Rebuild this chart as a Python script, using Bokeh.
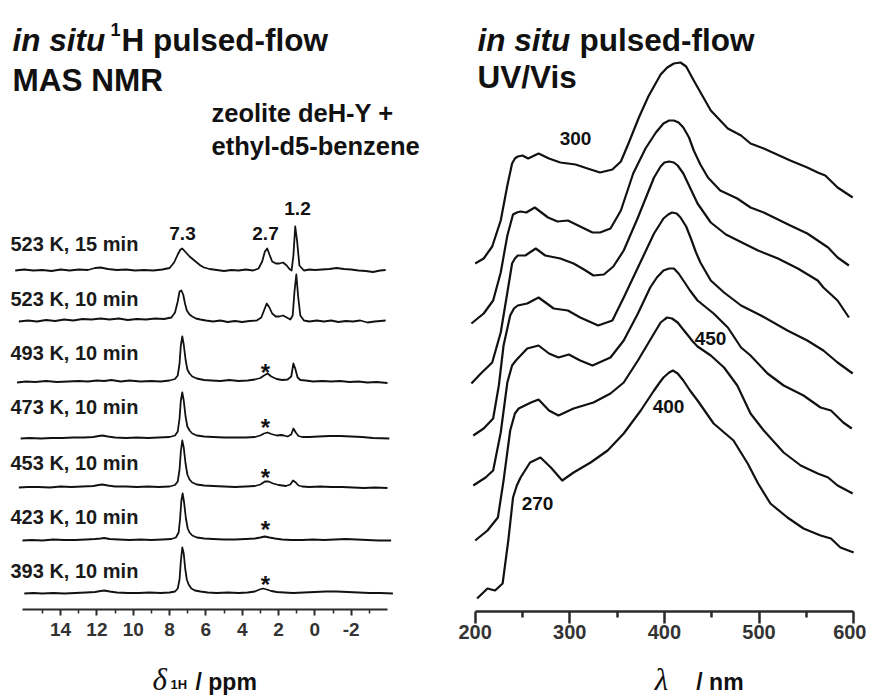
from bokeh.plotting import figure
from bokeh.models import Range1d, FixedTicker, Label
from bokeh.layouts import row, column
from bokeh.embed import file_html
from bokeh.resources import INLINE

# ---------------- NMR data (ppm, intensity a.u.) ----------------
nmr_labels = ["393 K, 10 min", "423 K, 10 min", "453 K, 10 min", "473 K, 10 min",
              "493 K, 10 min", "523 K, 10 min", "523 K, 15 min"]
nmr_offsets = [16, 69, 122, 171, 227, 288, 339]

ppm_393 = [16.0, 15.5, 15.0, 14.4, 13.8, 13.2, 12.6, 12.1, 11.8, 11.6, 11.3, 10.9, 10.3, 9.7, 9.1, 8.5,
           8.0, 7.7, 7.55, 7.45, 7.38, 7.3, 7.22, 7.14, 7.05, 6.95, 6.8, 6.6, 6.3, 5.9, 5.4, 4.8, 4.2,
           3.7, 3.3, 3.05, 2.85, 2.65, 2.4, 2.1, 1.7, 1.2, 0.6, 0.0, -0.6, -1.2, -1.8, -2.4, -3.0, -3.6, -4.3]
int_393 = [0, 0.5, 0, 0.5, 0, 0.5, 1, 1.5, 2.5, 3, 2, 1, 0.5, 0.5, 1, 0.5,
           1, 2, 5, 14, 32, 46, 40, 25, 14, 9, 5, 3, 2, 1, 0.5, 1, 0.5,
           1, 2, 4, 5, 4, 2.5, 1.5, 1, 0.5, 1, 1.5, 2, 2, 1.5, 1, 0.5, 0.5, 0]

ppm_423 = [16.1, 15.6, 15.0, 14.4, 13.8, 13.2, 12.6, 12.1, 11.8, 11.6, 11.3, 10.8, 10.2, 9.6, 9.0, 8.4,
           7.9, 7.65, 7.5, 7.42, 7.35, 7.28, 7.2, 7.1, 7.0, 6.9, 6.75, 6.5, 6.1, 5.6, 5.0, 4.4, 3.8,
           3.3, 3.0, 2.75, 2.5, 2.2, 1.8, 1.3, 0.7, 0.1, -0.5, -1.1, -1.7, -2.3, -2.9, -3.5, -4.2]
int_423 = [0, 0.5, 0, 1, 0.5, 0.5, 1, 1.5, 2, 2.5, 1.5, 1, 0.5, 1, 0.5, 1,
           1.5, 3, 8, 22, 40, 47, 38, 22, 12, 8, 5, 3, 2, 1.5, 1, 1, 1.5,
           2, 3, 4, 3, 2, 1, 0.5, 0.5, 1, 0.5, 1, 1.5, 1, 0.5, 0, 0]

ppm_453 = [16.3, 15.8, 15.2, 14.6, 14.0, 13.4, 12.8, 12.2, 11.9, 11.7, 11.4, 11.0, 10.4, 9.8, 9.2, 8.6,
           8.0, 7.7, 7.55, 7.45, 7.38, 7.3, 7.22, 7.12, 7.02, 6.9, 6.75, 6.5, 6.1, 5.6, 5.0, 4.4, 3.8,
           3.3, 3.0, 2.75, 2.55, 2.3, 2.0, 1.6, 1.35, 1.2, 1.05, 0.9, 0.7, 0.3, -0.3, -0.9, -1.5,
           -2.1, -2.7, -3.3, -4.0]
int_453 = [0, 0.5, 0.5, 0, 1, 0.5, 1, 1.5, 2.5, 3, 2, 1, 1, 0.5, 1, 0.5,
           1, 2.5, 6, 18, 36, 47, 40, 24, 13, 8, 5, 3, 2, 1.5, 1, 0.5, 1,
           1.5, 3, 6, 6, 4, 2.5, 1.5, 3, 7, 5, 2, 1, 0.5, 1, 0.5, 0.5,
           0, -0.5, 0, -0.5]

ppm_473 = [16.2, 15.7, 15.1, 14.5, 13.9, 13.3, 12.7, 12.2, 11.9, 11.7, 11.4, 11.0, 10.4, 9.8, 9.2, 8.6,
           8.0, 7.7, 7.55, 7.45, 7.38, 7.3, 7.22, 7.12, 7.02, 6.9, 6.75, 6.5, 6.1, 5.6, 5.0, 4.4, 3.8,
           3.3, 3.0, 2.8, 2.6, 2.4, 2.1, 1.85, 1.7, 1.5, 1.3, 1.18, 1.05, 0.9, 0.7, 0.3, -0.2, -0.8,
           -1.4, -2.0, -2.6, -3.2, -4.1]
int_473 = [0, 0.5, 0, 0.5, 0.5, 1, 1, 1.5, 2.5, 3, 2, 1, 0.5, 1, 0.5, 1,
           1.5, 3, 7, 20, 38, 46, 38, 22, 12, 8, 5, 3, 2, 1.5, 1, 1, 1,
           1.5, 3, 5, 6, 4.5, 3, 3.5, 3, 2, 4, 10, 6, 2.5, 1.5, 1.5, 2, 2.5,
           2.5, 2, 1.5, 0.5, 0]

ppm_493 = [16.4, 15.9, 15.4, 14.8, 14.2, 13.6, 13.0, 12.5, 12.0, 11.6, 11.2, 10.7, 10.2, 9.6, 9.0, 8.5,
           8.0, 7.7, 7.55, 7.45, 7.38, 7.3, 7.22, 7.12, 7.02, 6.9, 6.75, 6.5, 6.1, 5.7, 5.2, 4.7, 4.2,
           3.7, 3.3, 3.0, 2.8, 2.6, 2.4, 2.1, 1.8, 1.5, 1.3, 1.18, 1.08, 0.95, 0.8, 0.5, 0.1, -0.4,
           -0.9, -1.4, -1.9, -2.4, -2.9, -3.4, -4.0]
int_493 = [0, 1, 0.5, 1.5, 0.5, 1, 1.5, 1, 2, 1.5, 2.5, 1, 2, 1, 1.5, 1,
           2, 3.5, 7, 19, 37, 46, 38, 23, 13, 9, 6, 4, 2.5, 2, 1.5, 2.5, 1.5,
           2, 3, 4.5, 7, 9, 6, 3.5, 2.5, 3, 6, 19, 14, 5, 2.5, 2, 1, 1.5,
           1, 1.5, 0.5, 1, 0, 0.5, -0.5]

ppm_523a = [16.3, 15.8, 15.3, 14.8, 14.3, 13.8, 13.3, 12.8, 12.3, 11.8, 11.3, 10.8, 10.3, 9.8, 9.3, 8.8,
            8.3, 7.9, 7.7, 7.55, 7.45, 7.35, 7.25, 7.15, 7.05, 6.9, 6.75, 6.55, 6.3, 6.0, 5.6, 5.2,
            4.8, 4.4, 4.0, 3.6, 3.2, 2.95, 2.8, 2.65, 2.5, 2.35, 2.15, 1.95, 1.75, 1.55, 1.35, 1.22,
            1.12, 1.02, 0.92, 0.8, 0.6, 0.3, -0.1, -0.5, -0.9, -1.3, -1.7, -2.1, -2.5, -2.9, -3.3, -3.9]
int_523a = [0, 1, 0, 1.5, 0.5, 2, 1, 2.5, 2, 3, 2, 3, 1.5, 2.5, 2, 3,
            2.5, 4, 9, 20, 30, 31, 27, 18, 11, 7, 5, 3, 2, 1, 0, 1,
            -0.5, 0.5, -0.5, 0.5, 1, 4, 11, 18, 14, 8, 5, 5, 6, 4, 2, 6,
            30, 47, 25, 6, 1, 0, 1, 0, 1, -0.5, 0.5, 0, 1, -1, 0, 1]

ppm_523b = [16.5, 16.0, 15.5, 15.0, 14.5, 14.0, 13.5, 13.0, 12.5, 12.1, 11.8, 11.4, 10.9, 10.4, 9.9, 9.4,
            8.9, 8.4, 8.0, 7.75, 7.55, 7.4, 7.3, 7.2, 7.05, 6.9, 6.7, 6.5, 6.3, 6.1, 5.8, 5.4, 5.0,
            4.6, 4.2, 3.8, 3.4, 3.1, 2.9, 2.75, 2.62, 2.5, 2.35, 2.15, 1.95, 1.75, 1.55, 1.4, 1.28,
            1.18, 1.08, 0.98, 0.85, 0.6, 0.3, 0.0, -0.4, -0.8, -1.2, -1.6, -2.0, -2.4, -2.8, -3.2,
            -3.6, -3.9]
int_523b = [0, 1, 0, 0.5, -0.5, 1, 0, 1, 0.5, 2.5, 3, 1.5, 0.5, 1, 0, 0.5,
            0, 1, 2.5, 8, 16, 21, 22, 20, 17, 14, 11, 8, 5, 3, 1.5, 0.5, -0.5,
            0.5, 0, 1, 0, 2, 9, 19, 22, 16, 9, 7, 7, 8, 5, 1.5, 0,
            15, 44, 30, 5, 0, 1, 0.5, 1, 1.5, 2.5, 1.5, 1, 0, -0.5, -1.5,
            0, 0.5]

nmr_ppm = [ppm_393, ppm_423, ppm_453, ppm_473, ppm_493, ppm_523a, ppm_523b]
nmr_int = [int_393, int_423, int_453, int_473, int_493, int_523a, int_523b]

nmr_major = [14, 12, 10, 8, 6, 4, 2, 0, -2]
nmr_minor = [15, 13, 11, 9, 7, 5, 3, 1, -1, -3]

# ---------------- UV/Vis data (nm, stacked absorbance a.u.) ----------------
uv_wl_1 = [200, 209, 218, 227, 234, 239, 242, 245, 250, 256, 267, 278, 290, 306, 322, 332, 345, 354, 362,
           373, 383, 396, 403, 410, 417, 423, 431, 440, 449, 467, 481, 491, 505, 533, 551, 562, 570, 583, 599]
uv_ab_1 = [348, 353, 365, 391, 426, 448, 453, 455, 456, 453, 458, 453, 449, 447, 442, 439, 442, 450, 468,
           494, 515, 537, 544, 548, 549, 545, 531, 516, 501, 483, 476, 468, 463, 451, 444, 439, 436, 424, 414]
uv_wl_2 = [196, 209, 219, 227, 234, 240, 244, 248, 254, 263, 277, 287, 298, 311, 324, 332, 343, 354, 367,
           380, 391, 399, 405, 410, 415, 420, 426, 431, 438, 446, 459, 477, 491, 505, 533, 551, 562, 573, 583, 595]
uv_ab_2 = [288, 298, 311, 339, 376, 397, 399, 400, 399, 404, 394, 390, 391, 385, 379, 379, 383, 401, 438,
           463, 479, 488, 491, 491, 489, 484, 474, 461, 447, 434, 421, 413, 404, 399, 386, 378, 371, 364, 354, 346]
uv_wl_3 = [196, 206, 218, 227, 234, 239, 242, 245, 253, 264, 274, 290, 304, 315, 325, 336, 346, 357, 372,
           389, 396, 400, 405, 410, 414, 420, 425, 430, 435, 449, 465, 484, 499, 520, 541, 562, 568, 583, 595]
uv_ab_3 = [228, 238, 249, 279, 319, 348, 353, 356, 356, 363, 356, 353, 348, 342, 336, 337, 345, 361, 394,
           434, 445, 449, 450, 449, 446, 438, 428, 418, 408, 389, 377, 368, 361, 353, 343, 331, 324, 311, 294]
uv_wl_4 = [198, 209, 219, 225, 230, 237, 241, 245, 255, 267, 283, 298, 311, 330, 345, 357, 372, 389, 399,
           404, 408, 413, 417, 423, 428, 433, 438, 449, 463, 481, 502, 530, 551, 568, 583, 599]
uv_ab_4 = [176, 183, 193, 226, 266, 296, 303, 306, 308, 314, 303, 301, 294, 286, 291, 314, 344, 378, 393,
           397, 399, 398, 394, 385, 373, 360, 349, 331, 319, 306, 296, 281, 271, 261, 249, 238]
uv_wl_5 = [198, 211, 219, 227, 234, 239, 243, 255, 267, 278, 288, 299, 311, 324, 343, 357, 372, 385, 392,
           399, 405, 410, 415, 420, 427, 435, 452, 467, 481, 491, 509, 526, 547, 565, 576, 589, 598]
uv_ab_5 = [126, 134, 141, 179, 229, 246, 251, 263, 266, 258, 254, 257, 251, 246, 254, 271, 298, 324, 334,
           341, 343, 343, 338, 331, 321, 311, 298, 284, 264, 256, 238, 226, 216, 204, 201, 189, 183]
uv_wl_6 = [200, 213, 224, 230, 237, 242, 246, 259, 267, 278, 288, 304, 325, 343, 357, 372, 389, 396, 400,
           403, 408, 414, 419, 425, 430, 435, 449, 463, 477, 491, 505, 526, 544, 562, 573, 583, 599]
uv_ab_6 = [71, 81, 94, 131, 181, 198, 203, 209, 212, 201, 196, 203, 209, 218, 229, 251, 278, 289, 292,
           294, 293, 289, 283, 276, 270, 265, 256, 244, 226, 198, 181, 159, 146, 138, 134, 126, 118]
uv_wl_7 = [202, 213, 221, 229, 235, 240, 244, 248, 258, 269, 280, 292, 304, 322, 340, 357, 375, 389, 395,
           399, 405, 409, 414, 420, 427, 435, 452, 473, 488, 499, 512, 530, 547, 565, 576, 586, 600]
uv_ab_7 = [13, 23, 21, 28, 71, 114, 126, 134, 149, 154, 144, 131, 139, 149, 161, 178, 201, 221, 229,
           234, 239, 241, 238, 231, 221, 211, 188, 171, 148, 128, 108, 94, 83, 76, 73, 64, 59]

uv_wl = [uv_wl_1, uv_wl_2, uv_wl_3, uv_wl_4, uv_wl_5, uv_wl_6, uv_wl_7]
uv_ab = [uv_ab_1, uv_ab_2, uv_ab_3, uv_ab_4, uv_ab_5, uv_ab_6, uv_ab_7]

uv_major = [200, 300, 400, 500, 600]
uv_minor = [250, 350, 450, 550]

SANS = "Liberation Sans"
SERIF = "Liberation Serif"
INK = "#111111"
AXC = "#2a2a2a"
H_ALL = 700


def make_label(target, x, y, text, size, style="bold", font=SANS, align="left",
               base="alphabetic", color=INK):
    target.add_layout(Label(x=x, y=y, text=text, text_font=font, text_font_size=size,
                            text_font_style=style, text_align=align, text_baseline=base,
                            text_color=color))


def strip(width, height, x0):
    # blank strip for the axis title; data coordinates equal page pixels
    s = figure(width=width, height=height, x_range=Range1d(x0, x0 + width),
               y_range=Range1d(H_ALL, H_ALL - height),
               output_backend="svg", toolbar_location=None, x_axis_location=None,
               y_axis_location=None, min_border=0)
    s.outline_line_color = None
    s.grid.visible = False
    return s


# ---------------- left panel: NMR ----------------
L_W = 448
L_H = 644
NMR_AXIS_Y = 609
nx0, nx1 = 17.31, -7.36
p1 = figure(width=L_W, height=L_H, x_range=Range1d(nx0, nx1), y_range=Range1d(0, NMR_AXIS_Y),
            output_backend="svg", toolbar_location=None, y_axis_location=None,
            min_border=0, min_border_bottom=L_H - NMR_AXIS_Y)
p1.outline_line_color = None
p1.grid.visible = False

for xs, ys, off in zip(nmr_ppm, nmr_int, nmr_offsets):
    p1.line(xs, [off + y for y in ys], line_color=INK, line_width=1.8, line_join="round")

ax = p1.xaxis[0]
ax.ticker = FixedTicker(ticks=nmr_major, minor_ticks=nmr_minor)
ax.major_label_overrides = {-2: "-2"}
ax.bounds = (-4.0, 16.1)
ax.axis_line_width = 2
ax.axis_line_color = AXC
ax.major_tick_in = 0
ax.major_tick_out = 6
ax.minor_tick_in = 0
ax.minor_tick_out = 4
ax.major_tick_line_width = 2
ax.minor_tick_line_width = 1.5
ax.major_tick_line_color = AXC
ax.minor_tick_line_color = AXC
ax.major_label_text_font = SANS
ax.major_label_text_font_size = "19px"
ax.major_label_text_font_style = "bold"
ax.major_label_text_color = "#333333"
ax.major_label_standoff = 7


def n_x(px):
    return nx0 - px * (nx0 - nx1) / L_W


def n_y(py):
    return NMR_AXIS_Y - py


def lab1(px, py, text, size, style="bold", **kw):
    make_label(p1, n_x(px), n_y(py), text, size, style, **kw)


lab1(12, 39, "in situ", "31.5px", "bold italic")
lab1(110, 29, "1", "18px")
lab1(121, 39, "H pulsed-flow", "31.5px")
lab1(12, 79, "MAS NMR", "31.5px")
lab1(211, 112, "zeolite deH-Y +", "25.5px")
lab1(211, 145, "ethyl-d5-benzene", "25.5px")

label_y = [570, 516, 462, 406, 352, 298, 243]
for t, yy in zip(nmr_labels, label_y):
    lab1(10, yy, t, "20px", "bold", base="middle", color="#1a1a1a")

lab1(182, 233, "7.3", "19px", "bold", align="center", base="middle")
lab1(265, 233, "2.7", "19px", "bold", align="center", base="middle")
lab1(297, 208, "1.2", "19px", "bold", align="center", base="middle")
for ay in [366, 421, 471, 523, 578]:
    lab1(265, ay + 6, "*", "24px", "bold", align="center", base="middle")

t1 = strip(L_W, H_ALL - L_H, 0)
make_label(t1, 152, 679, "\u03b4", "31px", "italic", font=SERIF)
make_label(t1, 170, 684, "1H", "13px", "bold")
make_label(t1, 195, 681, "/ ppm", "23px", "bold")

# ---------------- right panel: UV/Vis ----------------
R_W = 418
R_H = 647
R_ML, R_MR = 21, 10
UV_AXIS_Y = 611
ux0, ux1 = 194.0, 603.0
p2 = figure(width=R_W, height=R_H, x_range=Range1d(ux0, ux1), y_range=Range1d(0, UV_AXIS_Y),
            output_backend="svg", toolbar_location=None, y_axis_location=None,
            min_border=0, min_border_left=R_ML, min_border_right=R_MR,
            min_border_bottom=R_H - UV_AXIS_Y)
p2.outline_line_color = None
p2.grid.visible = False

for xs, ys in zip(uv_wl, uv_ab):
    p2.line(xs, ys, line_color=INK, line_width=2.2, line_join="round")

bx = p2.xaxis[0]
bx.ticker = FixedTicker(ticks=uv_major, minor_ticks=uv_minor)
bx.bounds = (200, 600)
bx.axis_line_width = 2.5
bx.axis_line_color = AXC
bx.major_tick_in = 0
bx.major_tick_out = 12
bx.minor_tick_in = 0
bx.minor_tick_out = 6
bx.major_tick_line_width = 2.5
bx.minor_tick_line_width = 2.5
bx.major_tick_line_color = AXC
bx.minor_tick_line_color = AXC
bx.major_label_text_font = SANS
bx.major_label_text_font_size = "20px"
bx.major_label_text_font_style = "bold"
bx.major_label_text_color = "#333333"
bx.major_label_standoff = 1

R_LEFT = L_W + R_ML
FW = R_W - R_ML - R_MR


def u_x(px):
    return ux0 + (px - R_LEFT) * (ux1 - ux0) / FW


def u_y(py):
    return UV_AXIS_Y - py


def lab2(px, py, text, size, style="bold", **kw):
    make_label(p2, u_x(px), u_y(py), text, size, style, **kw)


lab2(477, 39, "in situ", "31.5px", "bold italic")
lab2(579, 39, "pulsed-flow", "31.5px")
lab2(477, 76, "UV/Vis", "31.5px")

lab2(575, 138, "300", "19px", "bold", align="center", base="middle")
lab2(710, 338, "450", "19px", "bold", align="center", base="middle")
lab2(668, 406, "400", "19px", "bold", align="center", base="middle")
lab2(537, 503, "270", "19px", "bold", align="center", base="middle")

t2 = strip(R_W, H_ALL - R_H, L_W)
make_label(t2, 648, 679, "\u03bb", "31px", "italic", font=SERIF)
make_label(t2, 693, 681, "/ nm", "23px", "bold")

layout = row(column(p1, t1), column(p2, t2))
open("out.html", "w").write(file_html(layout, INLINE))
